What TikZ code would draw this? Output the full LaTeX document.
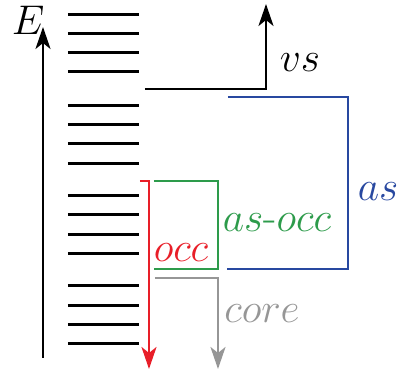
\documentclass[tikz,border=0pt]{standalone}
\usepackage{tikz}
\usetikzlibrary{arrows.meta}
\definecolor{occred}{RGB}{232,30,40}
\definecolor{asoccgreen}{RGB}{45,155,75}
\definecolor{asblue}{RGB}{40,72,160}
\definecolor{coregray}{RGB}{150,150,150}

\begin{document}
\begin{tikzpicture}[
x=0.5pt,y=-0.5pt,
>={Stealth[length=11pt,width=7.5pt,inset=3pt]},
level/.style={line width=1.5pt},
bracket/.style={line width=1.3pt},
arrow/.style={->,line width=1.3pt},
label/.style={inner sep=0pt,font=\fontsize{22}{26}\selectfont}
]
\useasboundingbox (0,0) rectangle (398,378);

%---------------- Levels ----------------%

\foreach \y in {15,34,53,72,106,125,144,164,196,215,235,254,286,306,325,344}
  \draw[level] (68,\y) -- (139,\y);

%---------------- Energy axis ----------------%

\coordinate (ebottom) at (43,358);
\coordinate (etop) at (43,27);
\draw[arrow] (ebottom) -- (etop);
\node[label] (elabel) at (28,20) {$E$};

%---------------- Spaces ----------------%

\coordinate (vs1) at (145,89);
\coordinate (vs2) at (266,89);
\coordinate (vs3) at (266,4);
\draw[arrow] (vs1) -- (vs2) -- (vs3);
\node[label] (vslabel) at (300,63) {$vs$};

\coordinate (as1) at (228,97);
\coordinate (as2) at (348,97);
\coordinate (as3) at (348,269);
\coordinate (as4) at (227,269);
\draw[bracket,asblue] (as1) -- (as2) -- (as3) -- (as4);
\node[label,text=asblue] (aslabel) at (378,192) {$as$};

\coordinate (ao1) at (154,181);
\coordinate (ao2) at (218,181);
\coordinate (ao3) at (218,269);
\coordinate (ao4) at (154,269);
\draw[bracket,asoccgreen] (ao1) -- (ao2) -- (ao3) -- (ao4);
\node[label,text=asoccgreen] (asocclabel) at (277,223) {$as$-$occ$};

\coordinate (occ1) at (140,181);
\coordinate (occ2) at (149,181);
\coordinate (occ3) at (149,369);
\draw[arrow,occred] (occ1) -- (occ2) -- (occ3);
\node[label,text=occred] (occlabel) at (181,253) {$occ$};

\coordinate (core1) at (155,278);
\coordinate (core2) at (218,278);
\coordinate (core3) at (218,369);
\draw[arrow,coregray] (core1) -- (core2) -- (core3);
\node[label,text=coregray] (corelabel) at (262,314) {$core$};

\end{tikzpicture}
\end{document}
